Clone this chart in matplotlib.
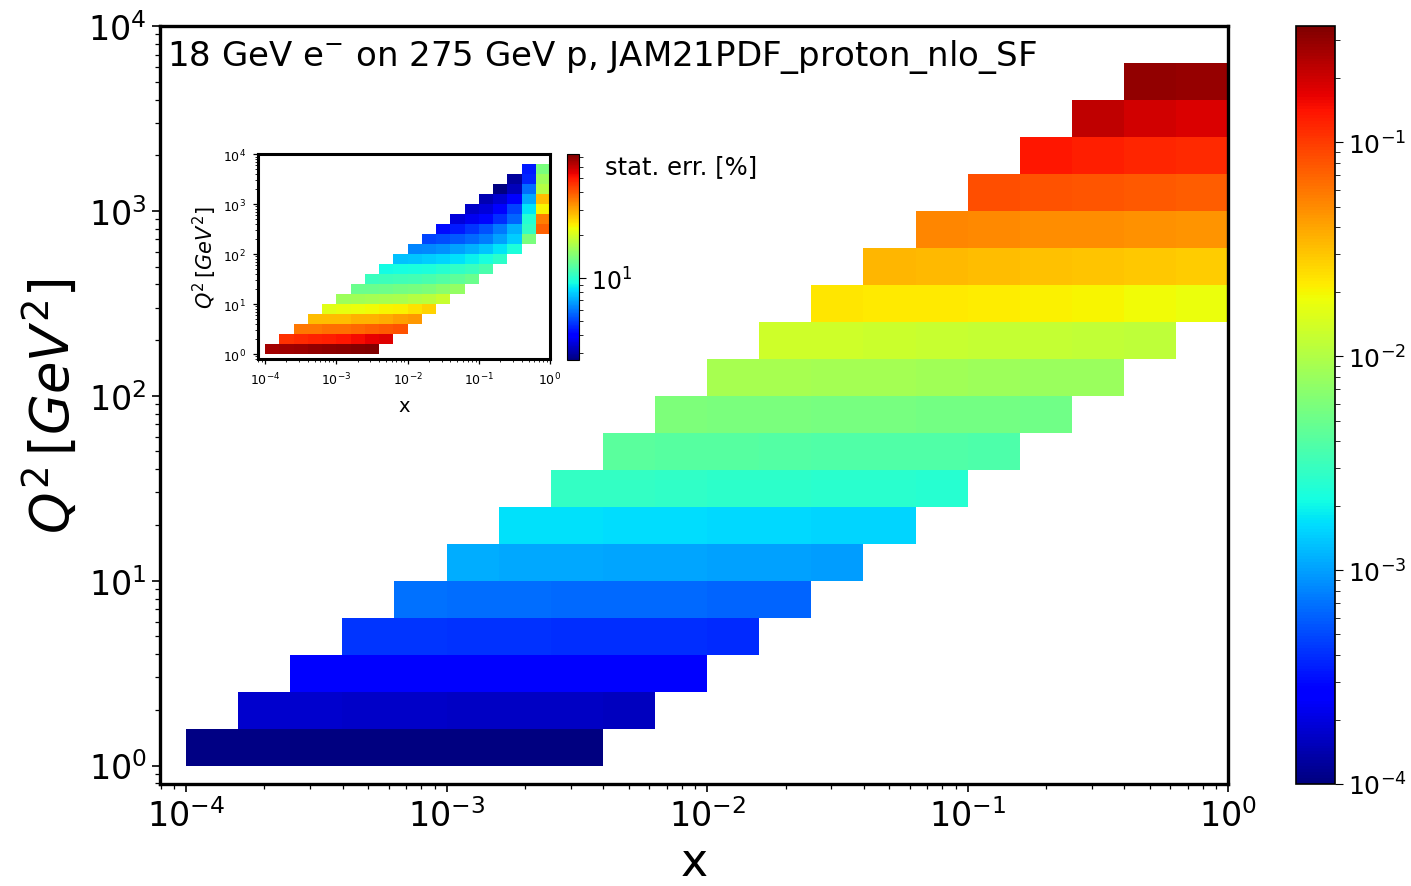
import numpy as np
import matplotlib.pyplot as plt
from matplotlib.colors import LogNorm

# 5 bins per decade in x and in Q2
x_edges = np.logspace(-4, 0, 21)
q2_edges = np.logspace(0, 3.8, 20)

# first x bin filled in each Q2 row (row 0 = lowest Q2)
row_start = [0, 1, 2, 3, 4, 5, 6, 7, 8, 9, 10, 11, 12, 13, 14, 15, 16, 17, 18]

# main map, one list per Q2 row, left to right
main_vals = [
    [1.05e-4, 1.04e-4, 1.03e-4, 1.02e-4, 1.01e-4, 1.0e-4, 1.0e-4, 1.0e-4],
    [1.75e-4, 1.72e-4, 1.70e-4, 1.68e-4, 1.66e-4, 1.64e-4, 1.62e-4, 1.60e-4],
    [2.70e-4, 2.65e-4, 2.60e-4, 2.60e-4, 2.55e-4, 2.50e-4, 2.50e-4, 2.45e-4],
    [4.30e-4, 4.20e-4, 4.15e-4, 4.10e-4, 4.05e-4, 4.00e-4, 3.95e-4, 3.90e-4],
    [6.80e-4, 6.70e-4, 6.60e-4, 6.50e-4, 6.45e-4, 6.40e-4, 6.30e-4, 6.20e-4],
    [1.10e-3, 1.08e-3, 1.06e-3, 1.05e-3, 1.03e-3, 1.02e-3, 1.00e-3, 9.8e-4],
    [1.70e-3, 1.68e-3, 1.65e-3, 1.63e-3, 1.60e-3, 1.58e-3, 1.55e-3, 1.52e-3],
    [2.90e-3, 2.85e-3, 2.80e-3, 2.75e-3, 2.70e-3, 2.65e-3, 2.60e-3, 2.55e-3],
    [4.20e-3, 4.10e-3, 4.05e-3, 4.00e-3, 3.90e-3, 3.85e-3, 3.80e-3, 3.70e-3],
    [6.00e-3, 5.90e-3, 5.80e-3, 5.70e-3, 5.60e-3, 5.50e-3, 5.40e-3, 5.30e-3],
    [9.20e-3, 9.00e-3, 8.80e-3, 8.70e-3, 8.50e-3, 8.30e-3, 8.10e-3, 7.90e-3],
    [1.35e-2, 1.32e-2, 1.29e-2, 1.26e-2, 1.23e-2, 1.20e-2, 1.17e-2, 1.14e-2],
    [2.30e-2, 2.25e-2, 2.20e-2, 2.15e-2, 2.10e-2, 2.00e-2, 1.90e-2, 1.80e-2],
    [3.50e-2, 3.40e-2, 3.30e-2, 3.20e-2, 3.10e-2, 3.00e-2, 2.90e-2],
    [5.20e-2, 5.10e-2, 5.00e-2, 4.90e-2, 4.70e-2, 4.60e-2],
    [8.50e-2, 8.30e-2, 8.00e-2, 7.70e-2, 7.40e-2],
    [0.135, 0.128, 0.122, 0.118],
    [0.22, 0.195, 0.185],
    [0.30, 0.29],
]

# statistical error in percent, same binning
err_vals = [
    [66, 67, 68, 69, 70, 71, 72, 73],
    [46, 47, 48, 49, 50, 52, 54, 56],
    [36, 36, 37, 37, 38, 39, 40, 41],
    [28, 28, 28, 29, 29, 30, 31, 32],
    [21, 21.5, 22, 22.5, 23, 23.5, 24.5, 26],
    [16, 16.2, 16.4, 16.7, 17, 17.5, 18, 19],
    [13, 13.1, 13.3, 13.5, 13.8, 14.2, 14.8, 15.5],
    [10.8, 10.9, 11.0, 11.2, 11.5, 11.9, 12.4, 13.0],
    [9.2, 9.3, 9.4, 9.6, 9.9, 10.3, 10.8, 11.5],
    [7.6, 7.7, 7.9, 8.1, 8.4, 8.8, 9.4, 10.2],
    [6.2, 6.3, 6.5, 6.8, 7.2, 7.7, 8.5, 9.6],
    [5.1, 5.2, 5.4, 5.7, 6.1, 6.8, 7.9, 14.0],
    [4.2, 4.4, 4.8, 5.3, 6.0, 7.2, 10.5, 39],
    [3.5, 3.7, 4.1, 4.7, 5.6, 9.8, 35],
    [3.3, 3.5, 3.9, 5.0, 8.5, 23],
    [3.1, 3.4, 4.0, 7.0, 28],
    [2.7, 3.2, 5.8, 17.5],
    [2.9, 4.6, 16],
    [4.4, 14],
]


def fill_grid(rows):
    z = np.full((len(q2_edges) - 1, len(x_edges) - 1), np.nan)
    for j, vals in enumerate(rows):
        z[j, row_start[j]:row_start[j] + len(vals)] = vals
    return np.ma.masked_invalid(z)


def style_axes(ax, lw, fs):
    ax.set_xscale('log')
    ax.set_yscale('log')
    ax.set_xlim(10 ** -4.1, 1)
    ax.set_ylim(10 ** -0.1, 10 ** 4)
    for s in ax.spines.values():
        s.set_linewidth(lw)
    ax.tick_params(which='major', labelsize=fs, width=1.2, length=6)
    ax.tick_params(which='minor', width=0.9, length=3.5)


fig = plt.figure(figsize=(14.11, 8.87), dpi=100)

ax = fig.add_axes([0.1134, 0.115, 0.757, 0.8546])
mesh = ax.pcolormesh(x_edges, q2_edges, fill_grid(main_vals), cmap='jet',
                     norm=LogNorm(vmin=1e-4, vmax=0.35))
style_axes(ax, 2.4, 24)
ax.tick_params(axis='x', which='major', pad=4)
# x label sits on the bottom edge of the figure
ax.set_xlabel('x', fontsize=33, va='bottom')
ax.xaxis.set_label_coords(0.5, (0.0015 - 0.115) / 0.8546)
ax.set_ylabel(r'$Q^2\,[GeV^2]$', fontsize=38, labelpad=6)
ax.text(0.007, 0.985, r'18 GeV e$^{-}$ on 275 GeV p, JAM21PDF_proton_nlo_SF',
        transform=ax.transAxes, ha='left', va='top', fontsize=24.5)

cax = fig.add_axes([0.9185, 0.115, 0.0276, 0.8546])
cb = fig.colorbar(mesh, cax=cax)
cb.ax.tick_params(which='major', labelsize=18, length=6)
cb.ax.tick_params(which='minor', length=3.5)
cb.outline.set_linewidth(1.2)

# inset with the statistical uncertainty
ax_in = fig.add_axes([0.1828, 0.594, 0.207, 0.231])
mesh_in = ax_in.pcolormesh(x_edges, q2_edges, fill_grid(err_vals), cmap='jet',
                           norm=LogNorm(vmin=2.67, vmax=73.6))
style_axes(ax_in, 2.2, 9)
ax_in.tick_params(which='major', length=3.5, width=0.9, pad=5)
ax_in.tick_params(which='minor', length=2, width=0.6)
ax_in.set_xlabel('x', fontsize=14, labelpad=6)
ax_in.set_ylabel(r'$Q^2\,[GeV^2]$', fontsize=15, labelpad=3)

cax_in = fig.add_axes([0.4018, 0.593, 0.0085, 0.232])
cb_in = fig.colorbar(mesh_in, cax=cax_in)
cb_in.ax.tick_params(which='major', labelsize=17, length=5)
cb_in.ax.tick_params(which='minor', length=3)
fig.text(0.4288, 0.812, 'stat. err. [%]', fontsize=17.5, ha='left', va='center')

fig.savefig('out.png', dpi=100)
